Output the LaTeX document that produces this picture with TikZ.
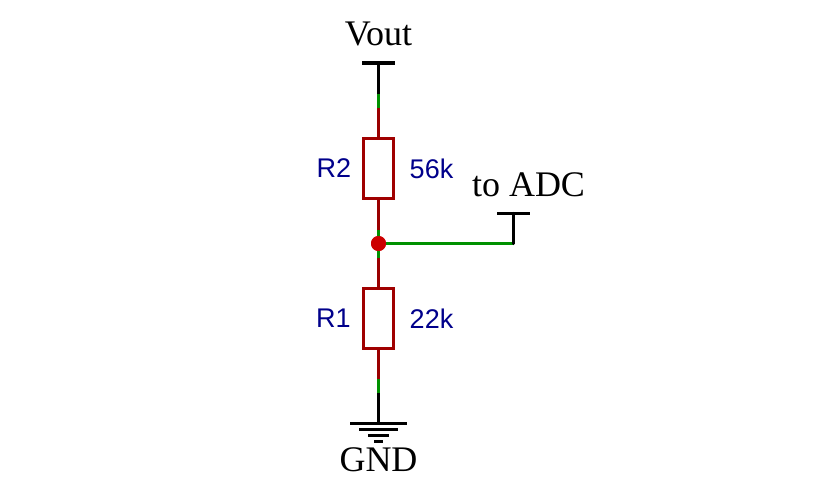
\documentclass[tikz,border=0pt]{standalone}
\usepackage{fontspec}
\setmainfont{Liberation Serif}
\newfontfamily\labelsans{Liberation Sans}
\definecolor{wirered}{RGB}{153,0,0}
\definecolor{boxred}{RGB}{160,0,0}
\definecolor{wiregreen}{RGB}{0,145,0}
\definecolor{dotred}{RGB}{204,0,0}
\definecolor{labelblue}{RGB}{0,0,139}
\tikzset{
  x=1pt,y=-1pt,
  lead/.style={draw=wirered,line width=3.2pt},
  net/.style={draw=wiregreen,line width=3.2pt},
  sym/.style={draw=black,line width=3.2pt},
  resbox/.style={draw=boxred,line width=3.2pt,fill=white,minimum width=30pt,minimum height=60pt,inner sep=0pt,outer sep=0pt},
  partlabel/.style={text=labelblue,font=\labelsans\fontsize{27}{27}\selectfont,inner sep=0pt},
  netlabel/.style={text=black,font=\fontsize{36}{36}\selectfont,inner sep=0pt},
  junction/.style={circle,fill=dotred,draw=none,minimum size=15pt,inner sep=0pt}
}
\begin{document}
\begin{tikzpicture}
\useasboundingbox (0,0) rectangle (834,495);
% coordinates
\coordinate (vtop) at (378.5,63);
\coordinate (vl) at (362,63);
\coordinate (vr) at (395,63);
\coordinate (a1) at (378.5,94);
\coordinate (a2) at (378.5,108);
\coordinate (b1) at (378.5,230);
\coordinate (b2) at (378.5,258);
\coordinate (c1) at (378.5,379);
\coordinate (c2) at (378.5,393);
\coordinate (gtop) at (378.5,423.5);
\coordinate (adc) at (513.5,213.5);
\coordinate (adcc) at (513.5,243.5);
\coordinate (adcl) at (497,213.5);
\coordinate (adcr) at (530,213.5);
% resistors
\node[resbox] (R2) at (378.5,168.5) {};
\node[resbox] (R1) at (378.5,318.5) {};
\node[junction] (J) at (378.5,243.5) {};
% wires
\draw[sym] (vl) -- (vr);
\draw[sym] (vtop) -- (a1);
\draw[net] (a1) -- (a2);
\draw[lead] (a2) -- (R2.north);
\draw[lead] (R2.south) -- (b1);
\draw[net] (b1) -- (J.center);
\draw[net] (J.center) -- (b2);
\draw[lead] (b2) -- (R1.north);
\draw[lead] (R1.south) -- (c1);
\draw[net] (c1) -- (c2);
\draw[sym] (c2) -- (gtop);
\draw[net] (J.center) -- (adcc);
\draw[sym,line cap=round] (adcc) -- (adc);
\draw[sym] (adcl) -- (adcr);
\node[junction] at (J.center) {};
% ground
\draw[sym] (350,423.5) -- (407,423.5);
\draw[sym] (359,429.5) -- (398,429.5);
\draw[sym] (368,435.5) -- (389,435.5);
\draw[sym] (374,441.5) -- (383,441.5);
% labels
\node[netlabel] (vout) at (378.5,34) {Vout};
\node[netlabel] (toadc) at (528.5,185) {to ADC};
\node[netlabel] (gnd) at (378.5,460) {GND};
\node[partlabel] (r2n) at (334,168.5) {R2};
\node[partlabel] (r2v) at (431.5,168.5) {56k};
\node[partlabel] (r1n) at (333.5,318.5) {R1};
\node[partlabel] (r1v) at (431.5,318.5) {22k};
\end{tikzpicture}
\end{document}
